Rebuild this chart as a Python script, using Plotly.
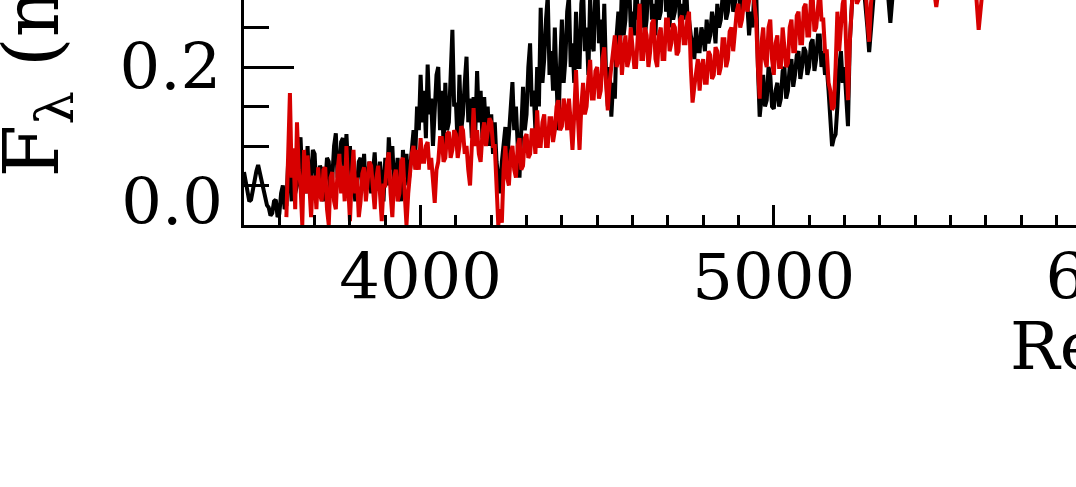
import numpy as np
import plotly.graph_objects as go

# ---------------- data ----------------
# Visible part of the spectra is read every 5 Å, the part above the frame every 10 Å.
black_start, red_start, tail_start = 3500, 3620, 5300
fine_step, tail_step = 5, 10

flux_black_fine = [
    0.067, 0.055, 0.047, 0.030, 0.032, 0.045, 0.054, 0.068, 0.076, 0.065,  # 3500
    0.060, 0.045, 0.037, 0.025, 0.022, 0.012, 0.015, 0.030, 0.032, 0.010,  # 3550
    0.014, 0.040, 0.050, 0.020, 0.025, 0.080, 0.060, 0.030, 0.090, 0.040,  # 3600
    0.050, 0.100, 0.111, 0.060, 0.080, 0.040, 0.100, 0.050, 0.060, 0.095,  # 3650
    0.090, 0.040, 0.040, 0.075, 0.070, 0.030, 0.050, 0.085, 0.080, 0.040,  # 3700
    0.060, 0.100, 0.116, 0.060, 0.070, 0.105, 0.110, 0.060, 0.115, 0.070,  # 3750
    0.100, 0.050, 0.060, 0.030, 0.050, 0.080, 0.085, 0.050, 0.090, 0.040,  # 3800
    0.060, 0.080, 0.040, 0.070, 0.092, 0.050, 0.060, 0.080, 0.050, 0.030,  # 3850
    0.085, 0.050, 0.111, 0.070, 0.100, 0.050, 0.060, 0.085, 0.050, 0.030,  # 3900
    0.095, 0.060, 0.090, 0.050, 0.070, 0.100, 0.120, 0.090, 0.150, 0.120,  # 3950
    0.190, 0.130, 0.170, 0.110, 0.203, 0.140, 0.160, 0.100, 0.140, 0.190,  # 4000
    0.200, 0.120, 0.170, 0.100, 0.180, 0.120, 0.130, 0.200, 0.247, 0.150,  # 4050
    0.155, 0.100, 0.190, 0.120, 0.140, 0.180, 0.213, 0.130, 0.160, 0.110,  # 4100
    0.162, 0.120, 0.195, 0.130, 0.170, 0.110, 0.162, 0.120, 0.150, 0.100,  # 4150
    0.140, 0.090, 0.130, 0.080, 0.060, 0.040, 0.080, 0.110, 0.124, 0.080,  # 4200
    0.110, 0.150, 0.181, 0.120, 0.150, 0.100, 0.060, 0.120, 0.175, 0.120,  # 4250
    0.140, 0.200, 0.230, 0.150, 0.170, 0.120, 0.200, 0.150, 0.275, 0.180,  # 4300
    0.210, 0.260, 0.290, 0.190, 0.220, 0.170, 0.250, 0.180, 0.120, 0.200,  # 4350
    0.260, 0.180, 0.210, 0.270, 0.290, 0.200, 0.230, 0.180, 0.270, 0.200,  # 4400
    0.200, 0.280, 0.300, 0.220, 0.250, 0.190, 0.290, 0.230, 0.220, 0.300,  # 4450
    0.310, 0.230, 0.260, 0.200, 0.280, 0.190, 0.150, 0.200, 0.137, 0.180,  # 4500
    0.160, 0.240, 0.270, 0.230, 0.300, 0.240, 0.260, 0.310, 0.310, 0.250,  # 4550
    0.270, 0.240, 0.320, 0.260, 0.280, 0.250, 0.300, 0.240, 0.260, 0.310,  # 4600
    0.320, 0.260, 0.280, 0.240, 0.310, 0.260, 0.270, 0.320, 0.330, 0.270,  # 4650
    0.290, 0.250, 0.310, 0.260, 0.270, 0.300, 0.300, 0.250, 0.280, 0.260,  # 4700
    0.320, 0.270, 0.260, 0.240, 0.230, 0.210, 0.250, 0.220, 0.220, 0.250,  # 4750
    0.240, 0.220, 0.260, 0.230, 0.240, 0.270, 0.255, 0.230, 0.280, 0.250,  # 4800
    0.260, 0.290, 0.290, 0.260, 0.270, 0.300, 0.300, 0.270, 0.280, 0.310,  # 4850
    0.310, 0.270, 0.285, 0.320, 0.310, 0.280, 0.240, 0.270, 0.250, 0.300,  # 4900
    0.300, 0.200, 0.137, 0.160, 0.190, 0.150, 0.158, 0.200, 0.190, 0.150,  # 4950
    0.147, 0.170, 0.180, 0.150, 0.160, 0.195, 0.200, 0.160, 0.170, 0.200,  # 5000
    0.210, 0.175, 0.190, 0.215, 0.220, 0.185, 0.200, 0.225, 0.220, 0.190,  # 5050
    0.200, 0.230, 0.235, 0.195, 0.210, 0.240, 0.240, 0.200, 0.220, 0.190,  # 5100
    0.200, 0.170, 0.140, 0.100, 0.110, 0.115, 0.150, 0.200, 0.220, 0.180,  # 5150
    0.200, 0.150, 0.125, 0.230, 0.290, 0.310, 0.320, 0.290, 0.300, 0.320,  # 5200
    0.330, 0.300, 0.280, 0.250, 0.219, 0.260, 0.300, 0.320, 0.330,         # 5250-5290
]

flux_black_tail = [
    0.320, 0.340, 0.310, 0.256, 0.310, 0.330, 0.350, 0.320, 0.340, 0.360,  # 5300-5390
    0.330, 0.350, 0.310, 0.340, 0.360, 0.320, 0.340, 0.350, 0.330, 0.360,  # 5400-5490
    0.340, 0.370, 0.330, 0.350, 0.360, 0.340, 0.370, 0.330, 0.310, 0.350,  # 5500-5590
    0.360, 0.340, 0.370, 0.350, 0.360, 0.380, 0.340, 0.360, 0.370, 0.350,  # 5600-5690
    0.380, 0.360, 0.370, 0.350, 0.380, 0.360, 0.390, 0.370, 0.360, 0.380,  # 5700-5790
    0.370, 0.390, 0.360, 0.380, 0.370, 0.390, 0.380,                       # 5800-5860
]

flux_red_fine = [
    0.010, 0.080, 0.167, 0.060, 0.097, 0.020, 0.130, 0.070,                # 3620-3655
    0.050, 0.000, 0.095, 0.040, 0.088, 0.050, 0.010, 0.060,                # 3660-3695
    0.060, 0.020, 0.073, 0.040, 0.030, 0.070, 0.073, 0.020, 0.000, 0.060,  # 3700
    0.067, 0.030, 0.020, 0.070, 0.090, 0.040, 0.075, 0.030, 0.100, 0.050,  # 3750
    0.005, 0.060, 0.095, 0.040, 0.060, 0.010, 0.030, 0.065, 0.073, 0.030,  # 3800
    0.050, 0.080, 0.075, 0.040, 0.020, 0.060, 0.075, 0.040, 0.005, 0.050,  # 3850
    0.050, 0.080, 0.092, 0.040, 0.010, 0.060, 0.070, 0.030, 0.040, 0.080,  # 3900
    0.085, 0.040, 0.000, 0.040, 0.065, 0.090, 0.100, 0.070, 0.095, 0.070,  # 3950
    0.110, 0.080, 0.080, 0.100, 0.105, 0.070, 0.085, 0.060, 0.028, 0.070,  # 4000
    0.080, 0.110, 0.110, 0.080, 0.085, 0.115, 0.118, 0.085, 0.095, 0.120,  # 4050
    0.115, 0.085, 0.100, 0.125, 0.120, 0.090, 0.100, 0.070, 0.050, 0.100,  # 4100
    0.148, 0.100, 0.120, 0.090, 0.080, 0.115, 0.130, 0.100, 0.115, 0.135,  # 4150
    0.130, 0.100, 0.100, 0.060, 0.000, 0.020, 0.003, 0.070, 0.100, 0.060,  # 4200
    0.050, 0.090, 0.100, 0.070, 0.060, 0.100, 0.110, 0.070, 0.075, 0.110,  # 4250
    0.115, 0.085, 0.090, 0.120, 0.120, 0.090, 0.145, 0.100, 0.100, 0.130,  # 4300
    0.140, 0.100, 0.100, 0.135, 0.135, 0.105, 0.120, 0.150, 0.158, 0.120,  # 4350
    0.125, 0.160, 0.145, 0.120, 0.160, 0.130, 0.095, 0.140, 0.196, 0.140,  # 4400
    0.095, 0.150, 0.180, 0.140, 0.150, 0.185, 0.209, 0.160, 0.160, 0.195,  # 4450
    0.200, 0.160, 0.170, 0.210, 0.225, 0.180, 0.145, 0.180, 0.200, 0.220,  # 4500
    0.240, 0.200, 0.210, 0.240, 0.190, 0.220, 0.240, 0.200, 0.210, 0.250,  # 4550
    0.230, 0.200, 0.200, 0.240, 0.280, 0.210, 0.210, 0.250, 0.240, 0.200,  # 4600
    0.220, 0.255, 0.260, 0.210, 0.200, 0.240, 0.250, 0.210, 0.210, 0.260,  # 4650
    0.260, 0.220, 0.230, 0.255, 0.250, 0.215, 0.220, 0.260, 0.265, 0.230,  # 4700
    0.230, 0.260, 0.270, 0.200, 0.155, 0.175, 0.190, 0.210, 0.170, 0.200,  # 4750
    0.210, 0.180, 0.180, 0.220, 0.215, 0.185, 0.190, 0.225, 0.220, 0.190,  # 4800
    0.200, 0.235, 0.235, 0.200, 0.210, 0.245, 0.250, 0.220, 0.245, 0.270,  # 4850
    0.280, 0.250, 0.260, 0.290, 0.300, 0.270, 0.290, 0.310, 0.310, 0.280,  # 4900
    0.260, 0.200, 0.160, 0.230, 0.250, 0.210, 0.200, 0.250, 0.260, 0.210,  # 4950
    0.190, 0.230, 0.240, 0.200, 0.200, 0.250, 0.230, 0.200, 0.205, 0.250,  # 5000
    0.260, 0.220, 0.220, 0.265, 0.270, 0.230, 0.230, 0.275, 0.280, 0.240,  # 5050
    0.240, 0.285, 0.290, 0.245, 0.250, 0.290, 0.300, 0.260, 0.260, 0.220,  # 5100
    0.220, 0.180, 0.170, 0.146, 0.150, 0.200, 0.270, 0.220, 0.260, 0.280,  # 5150
    0.290, 0.200, 0.158, 0.230, 0.280, 0.310, 0.300, 0.280, 0.285, 0.310,  # 5200
    0.310, 0.290, 0.300, 0.260, 0.232, 0.280, 0.310, 0.320, 0.320,         # 5250-5290
]

flux_red_tail = [
    0.300, 0.330, 0.310, 0.340, 0.320, 0.300, 0.330, 0.310, 0.340, 0.320,  # 5300-5390
    0.330, 0.310, 0.340, 0.320, 0.300, 0.310, 0.276, 0.310, 0.330, 0.320,  # 5400-5490
    0.340, 0.310, 0.330, 0.350, 0.320, 0.340, 0.330, 0.310, 0.247, 0.320,  # 5500-5590
    0.340, 0.330, 0.350, 0.320, 0.340, 0.360, 0.330, 0.350, 0.340, 0.360,  # 5600-5690
    0.330, 0.350, 0.370, 0.340, 0.360, 0.350, 0.370, 0.340, 0.360, 0.380,  # 5700-5790
    0.350, 0.370, 0.360, 0.380, 0.350, 0.370, 0.360,                       # 5800-5860
]

x_tick_values = [4000, 5000, 6000]
x_tick_labels = ["4000", "5000", "6000"]
y_tick_values = [0.0, 0.2]
y_tick_labels = ["", "0.2"]
y_bottom_label = ["0.0"]

x_title = "Rest Wavelength (Å)"
y_title = "F<sub>λ</sub> (normalized)"

wave_black = np.concatenate([black_start + fine_step * np.arange(len(flux_black_fine)),
                             tail_start + tail_step * np.arange(len(flux_black_tail))])
wave_red = np.concatenate([red_start + fine_step * np.arange(len(flux_red_fine)),
                           tail_start + tail_step * np.arange(len(flux_red_tail))])
flux_black = flux_black_fine + flux_black_tail
flux_red = flux_red_fine + flux_red_tail

# ---------------- layout geometry ----------------
FIG_W, FIG_H = 1400, 487
MARGIN_L, MARGIN_T = 244, 0
PLOT_BOTTOM = 225                 # pixel row of the x axis
PX_PER_ANGSTROM = 0.3532
PX_PER_FLUX = 790.0

plot_w = FIG_W - MARGIN_L
plot_h = PLOT_BOTTOM - MARGIN_T
x_range = [black_start, black_start + plot_w / PX_PER_ANGSTROM]
y_range = [0.0, plot_h / PX_PER_FLUX]

def px_to_paper_x(px):
    return (px - MARGIN_L) / plot_w

def px_to_paper_y(py):
    return (PLOT_BOTTOM - py) / plot_h

FONT = "DejaVu Serif"
TICK_FONT = dict(family=FONT, size=64, color="black")
RED = "#d70000"
LW = 4

fig = go.Figure()
fig.add_trace(go.Scatter(x=wave_black, y=flux_black, mode="lines",
                         line=dict(color="black", width=LW), showlegend=False,
                         hoverinfo="skip"))
fig.add_trace(go.Scatter(x=wave_red, y=flux_red, mode="lines",
                         line=dict(color=RED, width=LW), showlegend=False,
                         hoverinfo="skip"))
fig.add_trace(go.Scatter(x=[], y=[], yaxis="y2", showlegend=False, hoverinfo="skip"))

fig.update_layout(
    width=FIG_W, height=FIG_H,
    margin=dict(l=MARGIN_L, r=0, t=MARGIN_T, b=FIG_H - PLOT_BOTTOM, pad=0, autoexpand=False),
    paper_bgcolor="white", plot_bgcolor="white",
    font=dict(family=FONT, color="black", size=64),
    xaxis=dict(range=x_range, showgrid=False, zeroline=False,
               showline=True, linecolor="black", linewidth=3,
               ticks="inside", ticklen=20, tickwidth=3, tickcolor="black",
               tickvals=x_tick_values, ticktext=x_tick_labels,
               tickfont=TICK_FONT, ticklabelstandoff=-6,
               minor=dict(ticks="inside", ticklen=10, tickwidth=3, tickcolor="black",
                          dtick=100, tick0=black_start, showgrid=False)),
    yaxis=dict(range=y_range, showgrid=False, zeroline=False,
               showline=True, linecolor="black", linewidth=3,
               ticks="inside", ticklen=50, tickwidth=3, tickcolor="black",
               tickvals=y_tick_values, ticktext=y_tick_labels,
               tickfont=TICK_FONT, ticklabelstandoff=7,
               minor=dict(ticks="inside", ticklen=25, tickwidth=3, tickcolor="black",
                          dtick=0.05, tick0=0, showgrid=False)),
    yaxis2=dict(range=y_range, overlaying="y", side="left", showgrid=False,
                zeroline=False, showline=False, ticks="",
                tickvals=[0.0], ticktext=y_bottom_label,
                ticklabelstandoff=20, ticklabelshift=-23,
                tickfont=TICK_FONT),
    annotations=[
        dict(text=y_title, xref="paper", yref="paper",
             x=px_to_paper_x(36), y=px_to_paper_y(180),
             xanchor="center", yanchor="bottom", textangle=-90, showarrow=False,
             font=dict(family=FONT, size=76, color="black")),
        dict(text=x_title, xref="paper", yref="paper",
             x=px_to_paper_x(1008), y=px_to_paper_y(306),
             xanchor="left", yanchor="top", showarrow=False,
             font=dict(family=FONT, size=66, color="black")),
    ],
)

fig.write_html("out.html",
               post_script="document.body.style.margin='0';document.body.style.overflow='hidden';")
